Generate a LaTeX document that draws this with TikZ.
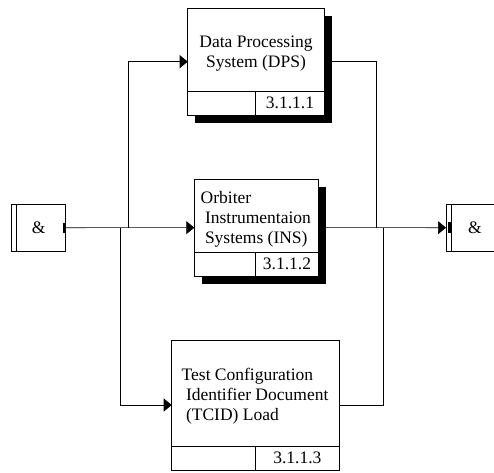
\documentclass[tikz,border=0pt]{standalone}
\usepackage{fontspec}
\setmainfont{Liberation Serif}
\usetikzlibrary{arrows.meta,shadows}

\begin{document}
\begin{tikzpicture}[x=1pt, y=-1pt,
  every node/.style={font=\fontsize{17.5}{20}\selectfont, inner sep=0pt, outer sep=0pt},
  procbox/.style={draw, fill=white, line width=0.6pt, anchor=north west},
  shadowbox/.style={procbox, drop shadow={shadow xshift=7.5pt, shadow yshift=-7.5pt, fill=black, opacity=1}},
  numcell/.style={draw, line width=0.6pt, minimum height=24pt, anchor=south east},
  andbox/.style={draw, line width=0.6pt, minimum width=54pt, minimum height=46.7pt},
  flow/.style={line width=0.6pt},
  flowarrow/.style={flow, -{Triangle[length=8pt,width=13pt]}}]
\useasboundingbox (0,0) rectangle (494,472);
\node[shadowbox, minimum width=136.6pt, minimum height=106.7pt] (dps) at (187.7,8.3) {};
\node[shadowbox, minimum width=124pt, minimum height=96.7pt] (ins) at (194.3,179.3) {};
\node[procbox, minimum width=167.3pt, minimum height=130pt] (tcid) at (171.7,340) {};
\node[align=center] (dpstext) at (256,53.8) {Data Processing\\System (DPS)};
\node[align=left, anchor=west] (instext) at (200.7,219) {Orbiter\\\hspace*{4.3pt}Instrumentaion\\\hspace*{4.3pt}Systems (INS)};
\node[align=left, anchor=west] (tcidtext) at (181.7,396.3) {Test Configuration\\\hspace*{4.3pt}Identifier Document\\\hspace*{4.3pt}(TCID) Load};
\node[numcell, minimum width=68.6pt] (dpsnum) at (dps.south east) {3.1.1.1};
\node[numcell, minimum width=62.6pt] (insnum) at (ins.south east) {3.1.1.2};
\node[numcell, minimum width=83.3pt] (tcidnum) at (tcid.south east) {3.1.1.3};
\draw[flow] (dpsnum.north west) -- (dpsnum.north west -| dps.west);
\draw[flow] (insnum.north west) -- (insnum.north west -| ins.west);
\draw[flow] (tcidnum.north west) -- (tcidnum.north west -| tcid.west);
\node[andbox] (andin) at (38.7,227.7) {\&};
\node[andbox] (andout) at (473,227.7) {\hspace*{4pt}\&};
\draw[flow] ([xshift=5pt]andin.north west) -- ([xshift=5pt]andin.south west);
\draw[flow] ([xshift=5.7pt]andout.north west) -- ([xshift=5.7pt]andout.south west);
\fill ([xshift=-3pt,yshift=-5.2pt]andin.east) rectangle ([yshift=5.2pt]andin.east);
\fill ([xshift=2pt,yshift=-5.5pt]andout.west) rectangle ([xshift=5.7pt,yshift=5.5pt]andout.west);
\coordinate (jdps) at (128.3,227.7);
\coordinate (jtcid) at (120,227.7);
\coordinate (kdps) at (376.3,227.7);
\coordinate (ktcid) at (383.3,227.7);
\draw[flowarrow] (andin.east) -- (ins.west);
\draw[flowarrow] (jdps) |- (dps.west);
\draw[flowarrow] (jtcid) |- (tcid.west);
\draw[flow] (dps.east) -| (kdps);
\draw[flowarrow] (ins.east) -- (andout.west);
\draw[flow] (tcid.east) -| (ktcid);
\end{tikzpicture}
\end{document}
